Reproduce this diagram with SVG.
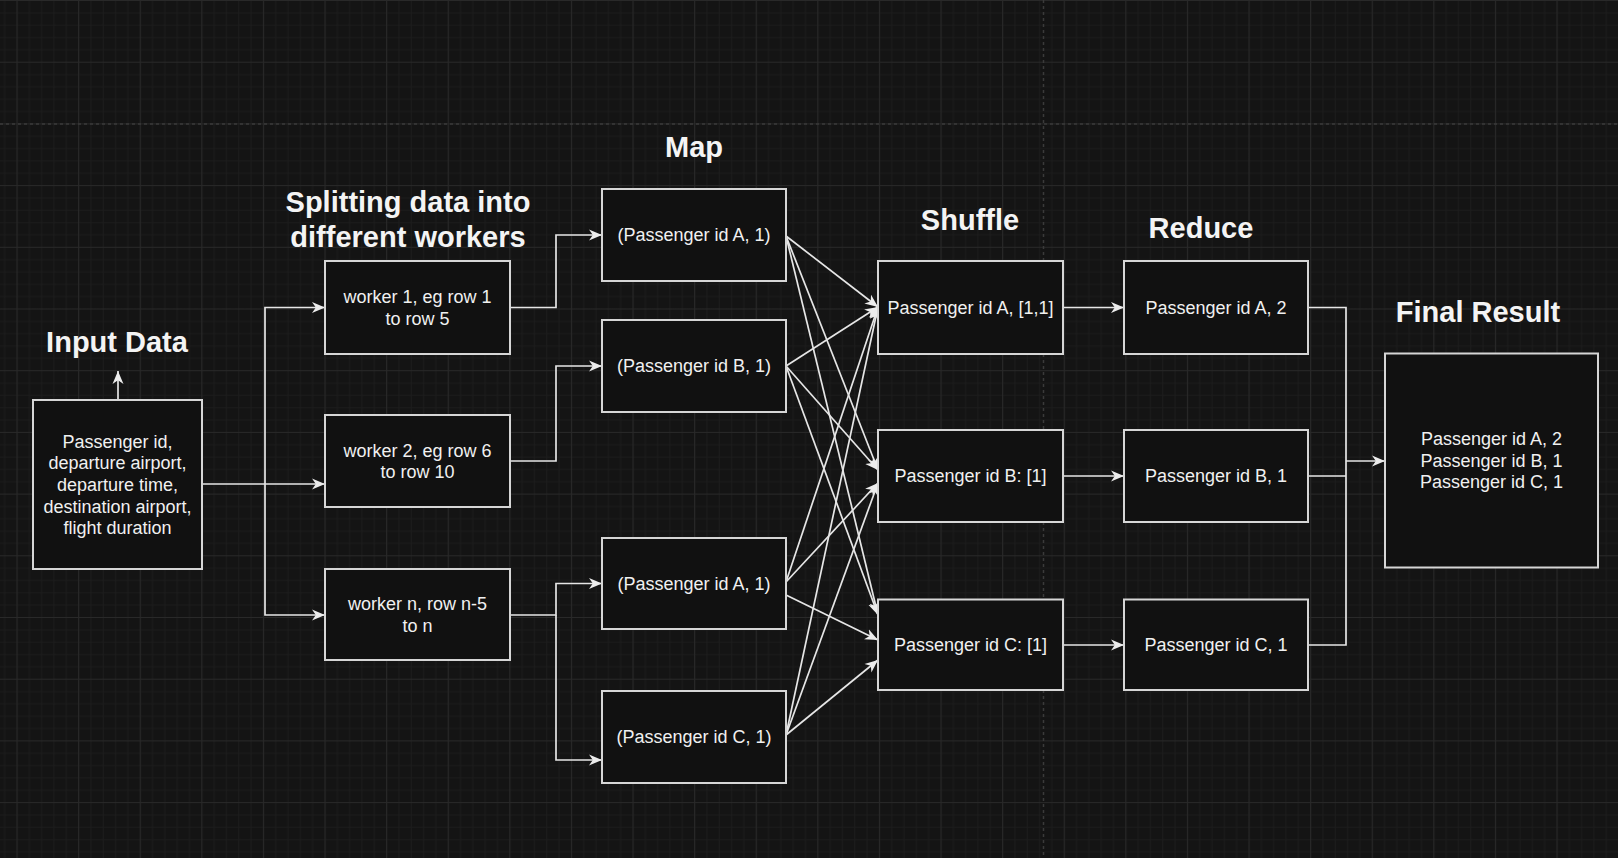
<svg xmlns="http://www.w3.org/2000/svg" width="1618" height="858" viewBox="0 0 1618 858">
  <defs>
    <pattern id="grid" patternUnits="userSpaceOnUse" x="16.5" y="0" width="61.6" height="61.7">
      <rect width="61.6" height="61.7" fill="#141414"/>
      <path d="M12.82,0V61.7M25.14,0V61.7M37.46,0V61.7M49.78,0V61.7M0,12.84H61.6M0,25.18H61.6M0,37.52H61.6M0,49.86H61.6" stroke="#1c1c1c" stroke-width="1" fill="none"/>
      <path d="M0.5,0V61.7M0,0.5H61.6" stroke="#292929" stroke-width="1.2" fill="none"/>
    </pattern>
    <marker id="arr" markerUnits="userSpaceOnUse" markerWidth="14" markerHeight="12" refX="13" refY="6" orient="auto" viewBox="0 0 14 12">
      <path d="M0,0.5 L13,6 L0,11.5 L3.8,6 Z" fill="#ececec"/>
    </marker>
    <style>
      .box { fill: #111111; stroke: #d6d6d6; stroke-width: 2; }
      .t { font-family: "Liberation Sans", Arial, Helvetica, sans-serif; font-size: 18px; fill: #f0f0f0; text-anchor: middle; }
      .h { font-family: "Liberation Sans", Arial, Helvetica, sans-serif; font-size: 29px; font-weight: bold; fill: #f4f4f4; text-anchor: middle; }
      .c { fill: none; stroke: #e6e6e6; stroke-width: 1.7; }
      .ca { fill: none; stroke: #e6e6e6; stroke-width: 1.7; marker-end: url(#arr); }
      .dash { stroke: #3a3a3a; stroke-width: 1.5; stroke-dasharray: 3 3; fill: none; }
    </style>
  </defs>

  <rect width="1618" height="858" fill="url(#grid)"/>
  <path class="dash" d="M0,124H1618M1043.5,0V858"/>

  <g id="titles">
    <text class="h" x="117" y="352">Input Data</text>
    <text class="h" x="408" y="212">Splitting data into</text>
    <text class="h" x="408" y="247">different workers</text>
    <text class="h" x="694" y="157">Map</text>
    <text class="h" x="970" y="230">Shuffle</text>
    <text class="h" x="1201" y="238">Reduce</text>
    <text class="h" x="1478" y="322">Final Result</text>
  </g>

  <g id="connectors">
    <path class="ca" d="M118,400V371"/>
    <path class="ca" d="M202,484H325"/>
    <path class="ca" d="M265,484V307.5H325"/>
    <path class="ca" d="M265,484V615H325"/>

    <path class="ca" d="M510,307.5H556V235H602"/>
    <path class="ca" d="M510,461H556V366H602"/>
    <path class="ca" d="M510,615H556V583.5H602"/>
    <path class="ca" d="M556,615V760H602"/>

    <path class="ca" d="M786,236L878,307"/>
    <path class="ca" d="M786,236L878,470"/>
    <path class="ca" d="M786,236L878,615"/>
    <path class="ca" d="M786,366L878,307"/>
    <path class="ca" d="M786,366L878,470"/>
    <path class="ca" d="M786,366L878,615"/>
    <path class="ca" d="M786,582L878,307"/>
    <path class="ca" d="M786,582L878,483"/>
    <path class="ca" d="M786,595L878,640"/>
    <path class="ca" d="M786,735L878,307"/>
    <path class="ca" d="M786,735L878,483"/>
    <path class="ca" d="M786,735L878,660"/>

    <path class="ca" d="M1063,307.5H1124"/>
    <path class="ca" d="M1063,476H1124"/>
    <path class="ca" d="M1063,645H1124"/>

    <path class="c" d="M1308,307.5H1346V645H1308M1308,476H1346"/>
    <path class="ca" d="M1346,461H1385"/>
  </g>

  <g id="input">
    <rect class="box" x="33" y="400" width="169" height="169"/>
    <text class="t" x="117.5" y="447.7">Passenger id,</text>
    <text class="t" x="117.5" y="469.3">departure airport,</text>
    <text class="t" x="117.5" y="490.9">departure time,</text>
    <text class="t" x="117.5" y="512.5">destination airport,</text>
    <text class="t" x="117.5" y="534.1">flight duration</text>
  </g>

  <g id="worker1">
    <rect class="box" x="325" y="261" width="185" height="93"/>
    <text class="t" x="417.5" y="303">worker 1, eg row 1</text>
    <text class="t" x="417.5" y="324.6">to row 5</text>
  </g>
  <g id="worker2">
    <rect class="box" x="325" y="415" width="185" height="92"/>
    <text class="t" x="417.5" y="456.6">worker 2, eg row 6</text>
    <text class="t" x="417.5" y="478.2">to row 10</text>
  </g>
  <g id="workern">
    <rect class="box" x="325" y="569" width="185" height="91"/>
    <text class="t" x="417.5" y="610">worker n, row n-5</text>
    <text class="t" x="417.5" y="631.6">to n</text>
  </g>

  <g id="map1">
    <rect class="box" x="602" y="189" width="184" height="92"/>
    <text class="t" x="694" y="241.4">(Passenger id A, 1)</text>
  </g>
  <g id="map2">
    <rect class="box" x="602" y="320" width="184" height="92"/>
    <text class="t" x="694" y="372.4">(Passenger id B, 1)</text>
  </g>
  <g id="map3">
    <rect class="box" x="602" y="538" width="184" height="91"/>
    <text class="t" x="694" y="590">(Passenger id A, 1)</text>
  </g>
  <g id="map4">
    <rect class="box" x="602" y="691" width="184" height="92"/>
    <text class="t" x="694" y="743.4">(Passenger id C, 1)</text>
  </g>

  <g id="shuffleA">
    <rect class="box" x="878" y="261" width="185" height="93"/>
    <text class="t" x="970.5" y="314">Passenger id A, [1,1]</text>
  </g>
  <g id="shuffleB">
    <rect class="box" x="878" y="430" width="185" height="92"/>
    <text class="t" x="970.5" y="482.4">Passenger id B: [1]</text>
  </g>
  <g id="shuffleC">
    <rect class="box" x="878" y="599.5" width="185" height="90.5"/>
    <text class="t" x="970.5" y="651.4">Passenger id C: [1]</text>
  </g>

  <g id="reduceA">
    <rect class="box" x="1124" y="261" width="184" height="93"/>
    <text class="t" x="1216" y="314">Passenger id A, 2</text>
  </g>
  <g id="reduceB">
    <rect class="box" x="1124" y="430" width="184" height="92"/>
    <text class="t" x="1216" y="482.4">Passenger id B, 1</text>
  </g>
  <g id="reduceC">
    <rect class="box" x="1124" y="599.5" width="184" height="90.5"/>
    <text class="t" x="1216" y="651.4">Passenger id C, 1</text>
  </g>

  <g id="final">
    <rect class="box" x="1385" y="353.5" width="213" height="214"/>
    <text class="t" x="1491.5" y="445">Passenger id A, 2</text>
    <text class="t" x="1491.5" y="466.6">Passenger id B, 1</text>
    <text class="t" x="1491.5" y="488.2">Passenger id C, 1</text>
  </g>
</svg>
